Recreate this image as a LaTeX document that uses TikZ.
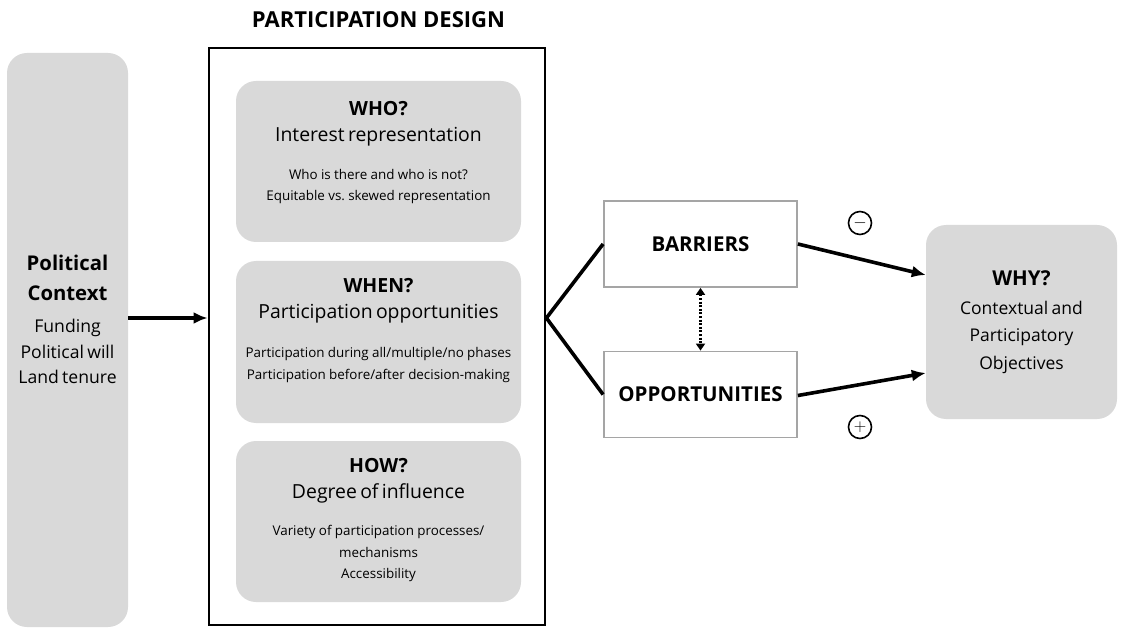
\documentclass[tikz,border=0pt]{standalone}
\usepackage{fontspec}
\setmainfont{Open Sans}
\usetikzlibrary{positioning,arrows.meta}
\definecolor{PanelGrey}{RGB}{217,217,217}
\definecolor{EdgeGrey}{RGB}{165,165,165}
\tikzset{
  panel/.style={
    fill=PanelGrey,
    draw=none,
    rounded corners=20pt,
    inner sep=0pt
  },
  design item/.style={panel, minimum width=285pt, minimum height=161pt},
  outcome box/.style={
    draw=EdgeGrey,
    line width=1.8pt,
    fill=white,
    minimum width=193pt,
    minimum height=86pt,
    font=\fontsize{20.5}{24}\selectfont\bfseries
  },
  item text/.style={anchor=north, align=center, inner sep=0pt, text width=283pt},
  sign/.style={circle, draw, line width=1.6pt, minimum size=23pt, inner sep=0pt, font=\fontsize{18}{18}\selectfont},
  flow arrow/.style={-{Latex[length=14pt,width=12pt]}, line width=3.6pt},
  fork line/.style={line width=3.6pt},
  link arrow/.style={{Triangle[length=7pt,width=9pt]}-{Triangle[length=7pt,width=9pt]}, dash pattern=on 2pt off 1.6pt, line width=2.2pt}
}
\newcommand{\itemhead}{\fontsize{19.5}{20}\selectfont\bfseries}
\newcommand{\itemsub}{\fontsize{19.4}{26}\selectfont}
\newcommand{\smalllines}{\fontsize{13.4}{21.5}\selectfont}

\begin{document}
\begin{tikzpicture}[x=1pt,y=-1pt]
\useasboundingbox (0,0) rectangle (1124,628);

% context on the left
\node[panel, minimum width=121pt, minimum height=574pt] (ctx) at (67.5,340) {};
\node[align=center, inner sep=0pt, text width=120pt, anchor=north] (ctxtext) at (67.5,254.5)
  {{\fontsize{20.3}{30}\selectfont\bfseries Political\\Context\par}
   \vspace{7pt}
   {\fontsize{17.6}{25.5}\selectfont Funding\\Political will\\Land tenure\par}};

% participation design frame
\node[font=\fontsize{22}{24}\selectfont\bfseries] (title) at (378.5,20) {PARTICIPATION DESIGN};
\node[draw, line width=2.8pt, minimum width=336pt, minimum height=577pt, inner sep=0pt] (design) at (377,336.5) {};

\node[design item] (who) at (378.5,161.5) {};
\node[item text] (whotext) at (378.5,101.5)
  {{\itemhead WHO?\par}
   {\itemsub Interest representation\par}
   \vspace{16pt}
   {\smalllines Who is there and who is not?\\Equitable vs.\ skewed representation\par}};

\node[design item, minimum height=162pt] (when) at (378.5,342) {};
\node[item text] (whentext) at (378.5,278)
  {{\itemhead WHEN?\par}
   {\itemsub Participation opportunities\par}
   \vspace{18pt}
   {\smalllines Participation during all/multiple/no phases\\Participation before/after decision-making\par}};

\node[design item, minimum height=161pt] (how) at (378.5,521.5) {};
\node[item text] (howtext) at (378.5,458)
  {{\itemhead HOW?\par}
   {\itemsub Degree of influence\par}
   \vspace{16pt}
   {\smalllines Variety of participation processes/\\mechanisms\\Accessibility\par}};

% barriers and opportunities
\node[outcome box] (barriers) at (700.5,244) {BARRIERS};
\node[outcome box] (opps) at (700.5,394.5) {OPPORTUNITIES};

% objectives on the right
\node[panel, minimum width=191pt, minimum height=194pt] (why) at (1021.5,322) {};
\node[align=center, inner sep=0pt, text width=188pt, anchor=north] (whytext) at (1021.5,270)
  {{\fontsize{20.5}{22}\selectfont\bfseries WHY?\par}
   \vspace{1.5pt}
   {\fontsize{17.5}{27.5}\selectfont Contextual and\\Participatory\\Objectives\par}};

\node[sign] (minus) at (860,223) {$-$};
\node[sign] (plus) at (860,427) {$+$};

% connectors
\draw[flow arrow] (ctx.east |- 0,318) -- (design.west |- 0,318);
\coordinate (fork) at (design.east |- 0,318);
\draw[fork line] (barriers.west) -- (fork) -- (opps.west);
\draw[link arrow] (barriers.south) -- (opps.north);
\draw[flow arrow] (barriers.east) -- (why.west |- 0,275);
\draw[flow arrow] ([yshift=-1pt]opps.east) -- (why.west |- 0,373);
\end{tikzpicture}
\end{document}
